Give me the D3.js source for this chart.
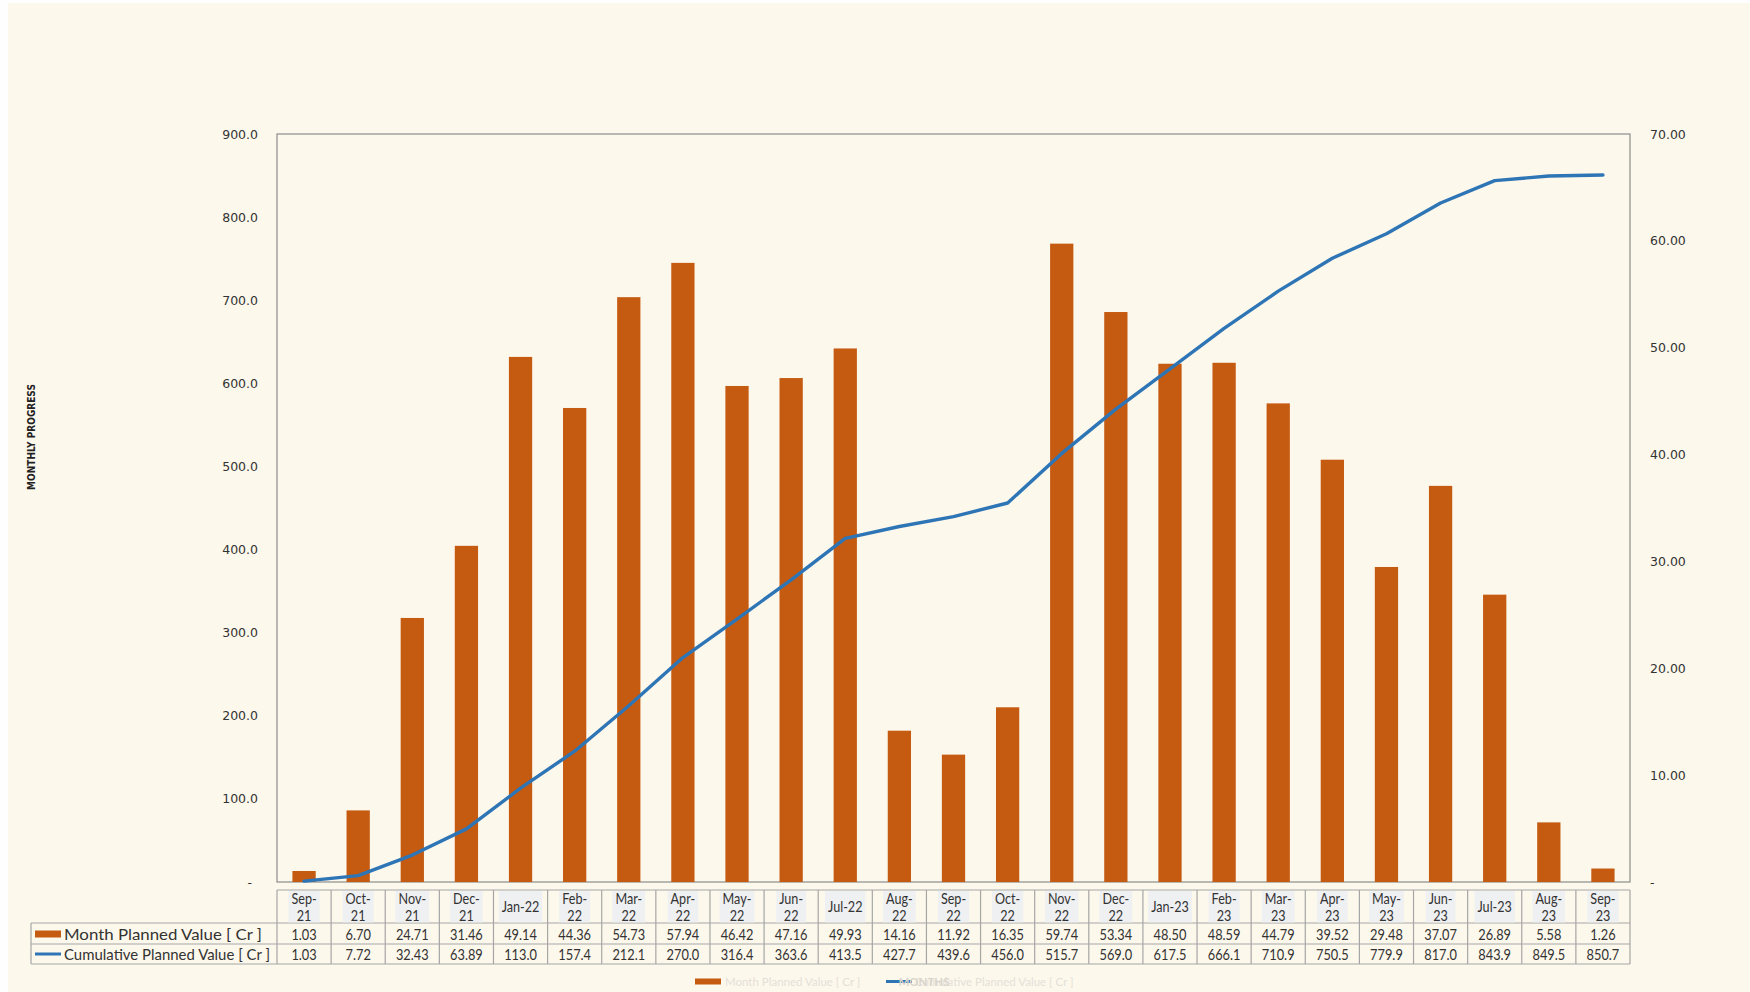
<!DOCTYPE html>
<html>
<head>
<meta charset="utf-8">
<script src="https://cdn.jsdelivr.net/npm/d3@7"></script>
<style>
  html, body { margin: 0; padding: 0; background: #fefefe; }
  svg { display: block; }
</style>
</head>
<body>
<svg id="chart" width="1750" height="992"></svg>
<script>
// ---------------- DATA ----------------
const categories = ["Sep-21","Oct-21","Nov-21","Dec-21","Jan-22","Feb-22","Mar-22","Apr-22","May-22","Jun-22","Jul-22","Aug-22","Sep-22","Oct-22","Nov-22","Dec-22","Jan-23","Feb-23","Mar-23","Apr-23","May-23","Jun-23","Jul-23","Aug-23","Sep-23"];
const singleLineLabels = ["Jan-22","Jul-22","Jan-23","Jul-23"];
const monthlyValues = [1.03,6.70,24.71,31.46,49.14,44.36,54.73,57.94,46.42,47.16,49.93,14.16,11.92,16.35,59.74,53.34,48.50,48.59,44.79,39.52,29.48,37.07,26.89,5.58,1.26];
const cumulativeValues = [1.03,7.72,32.43,63.89,113.0,157.4,212.1,270.0,316.4,363.6,413.5,427.7,439.6,456.0,515.7,569.0,617.5,666.1,710.9,750.5,779.9,817.0,843.9,849.5,850.7];
const leftTicks = [0,100,200,300,400,500,600,700,800,900];
const rightTicks = [0,10,20,30,40,50,60,70];
const seriesNames = ["Month Planned Value [ Cr ]","Cumulative Planned Value [ Cr ]"];
const yAxisTitle = "MONTHLY PROGRESS";
const xAxisTitle = "MONTHS";

// ---------------- STYLE ----------------
const barColor = "#c55a11";
const lineColor = "#2e75b6";
const bg = "#fdf8ec";
const gridColor = "#a6a6a6";
const textColor = "#333333";
const tableFont = "Lato, 'Open Sans', sans-serif";
const tickFont = "'DejaVu Sans', Verdana, sans-serif";

const svg = d3.select("#chart");
svg.append("rect").attr("x", 8).attr("y", 3).attr("width", 1742).attr("height", 989).attr("fill", bg);

const plot = {left: 277, right: 1630, top: 134, bottom: 882};

const x = d3.scaleBand().domain(categories).range([plot.left, plot.right]).paddingInner(0.57).paddingOuter(0.285);
const yLeft = d3.scaleLinear().domain([0, 900]).range([plot.bottom, plot.top]);
const yRight = d3.scaleLinear().domain([0, 70]).range([plot.bottom, plot.top]);

// plot frame
svg.append("rect").attr("x", plot.left).attr("y", plot.top)
  .attr("width", plot.right - plot.left).attr("height", plot.bottom - plot.top)
  .attr("fill", "none").attr("stroke", "#8c8c8c").attr("stroke-width", 1.2);

// Left axis
const leftAxis = d3.axisLeft(yLeft).tickValues(leftTicks).tickSize(0).tickPadding(19)
  .tickFormat(d => d === 0 ? "-" : d3.format(".1f")(d));
const gL = svg.append("g").attr("transform", `translate(${plot.left},0)`).call(leftAxis);
gL.select(".domain").remove();
gL.selectAll("text").attr("font-family", tickFont).attr("font-size", 12.5).attr("fill", textColor);
gL.selectAll(".tick").filter(d => d === 0).select("text").attr("dx", -6);

// Right axis
const rightAxis = d3.axisRight(yRight).tickValues(rightTicks).tickSize(0).tickPadding(20)
  .tickFormat(d => d === 0 ? "-" : d3.format(".2f")(d));
const gR = svg.append("g").attr("transform", `translate(${plot.right},0)`).call(rightAxis);
gR.select(".domain").remove();
gR.selectAll("text").attr("font-family", tickFont).attr("font-size", 12.5).attr("fill", textColor);

// Bars (right axis)
svg.append("g").selectAll("rect").data(categories).join("rect")
  .attr("x", d => x(d))
  .attr("width", x.bandwidth())
  .attr("y", (d, i) => yRight(monthlyValues[i]))
  .attr("height", (d, i) => yRight(0) - yRight(monthlyValues[i]))
  .attr("fill", barColor);

// Line (left axis)
const line = d3.line()
  .x((d, i) => x(categories[i]) + x.bandwidth() / 2)
  .y(d => yLeft(d));
svg.append("path").datum(cumulativeValues)
  .attr("d", line).attr("fill", "none").attr("stroke", lineColor)
  .attr("stroke-width", 3.4).attr("stroke-linejoin", "round").attr("stroke-linecap", "round");

// Y axis title
svg.append("text")
  .attr("transform", `translate(${35},${437}) rotate(-90)`)
  .attr("text-anchor", "middle")
  .attr("font-family", "'Liberation Sans Narrow', 'DejaVu Sans Condensed', Lato, sans-serif")
  .attr("font-weight", "bold").attr("font-size", 10).attr("fill", "#222")
  .text(yAxisTitle);

// ---------------- DATA TABLE ----------------
const tbl = {top: 890, headBottom: 923, row2Bottom: 944, bottom: 964, legendLeft: 31};
const step = x.step();
const colLeft = c => x(c) - (step - x.bandwidth()) / 2;
const tg = svg.append("g");
const FS = 16;
const HFS = 15;

function squeeze(sel, factor) {
  sel.each(function() {
    const w = this.getComputedTextLength();
    d3.select(this).attr("textLength", w * factor).attr("lengthAdjust", "spacingAndGlyphs");
  });
}

// grid lines
const gl = tg.append("g").attr("stroke", gridColor).attr("stroke-width", 1.2);
gl.append("line").attr("x1", plot.left).attr("x2", plot.right).attr("y1", tbl.top).attr("y2", tbl.top);
gl.append("line").attr("x1", tbl.legendLeft).attr("x2", plot.right).attr("y1", tbl.headBottom).attr("y2", tbl.headBottom);
gl.append("line").attr("x1", tbl.legendLeft).attr("x2", plot.right).attr("y1", tbl.row2Bottom).attr("y2", tbl.row2Bottom);
gl.append("line").attr("x1", tbl.legendLeft).attr("x2", plot.right).attr("y1", tbl.bottom).attr("y2", tbl.bottom);
gl.append("line").attr("x1", tbl.legendLeft).attr("x2", tbl.legendLeft).attr("y1", tbl.headBottom).attr("y2", tbl.bottom);
categories.forEach(c => {
  gl.append("line").attr("x1", colLeft(c)).attr("x2", colLeft(c)).attr("y1", tbl.top).attr("y2", tbl.bottom);
});
gl.append("line").attr("x1", plot.right).attr("x2", plot.right).attr("y1", tbl.top).attr("y2", tbl.bottom);

// header light boxes + text (drawn over the top border)
categories.forEach((c, i) => {
  const cx = colLeft(c) + step / 2;
  const single = singleLineLabels.includes(c);
  const lines = single ? [c] : [c.split("-")[0] + "-", c.split("-")[1]];
  const g = tg.append("g");
  const texts = lines.map((t, k) => g.append("text")
    .attr("x", cx)
    .attr("y", single ? 911.5 : (k === 0 ? 903.5 : 920.5))
    .attr("text-anchor", "middle")
    .attr("font-family", tableFont).attr("font-size", HFS).attr("fill", textColor)
    .text(t));
  texts.forEach(t => squeeze(t, 0.84));
  const ws = texts.map(t => +t.attr("textLength"));
  const bw = d3.max(ws) + 6;
  g.insert("rect", "text").attr("x", cx - bw / 2).attr("y", tbl.top + 1)
    .attr("width", bw).attr("height", tbl.headBottom - tbl.top - 1.6)
    .attr("fill", "#eff0f1");
});

// data rows
const fmtCum = v => v < 100 ? v.toFixed(2) : v.toFixed(1);
categories.forEach((c, i) => {
  const cx = colLeft(c) + step / 2;
  squeeze(tg.append("text").attr("x", cx).attr("y", 939.5).attr("text-anchor", "middle")
    .attr("font-family", tableFont).attr("font-size", FS).attr("fill", textColor)
    .text(monthlyValues[i].toFixed(2)), 0.8);
  squeeze(tg.append("text").attr("x", cx).attr("y", 960).attr("text-anchor", "middle")
    .attr("font-family", tableFont).attr("font-size", FS).attr("fill", textColor)
    .text(fmtCum(cumulativeValues[i])), 0.8);
});

// legend keys in the table
tg.append("rect").attr("x", 35).attr("y", 930.5).attr("width", 26).attr("height", 7).attr("fill", barColor);
tg.append("line").attr("x1", 35).attr("x2", 61).attr("y1", 954).attr("y2", 954)
  .attr("stroke", lineColor).attr("stroke-width", 3);
tg.append("text").attr("x", 64).attr("y", 939.5)
  .attr("font-family", tableFont).attr("font-size", FS).attr("fill", textColor)
  .attr("textLength", 198).attr("lengthAdjust", "spacingAndGlyphs")
  .text(seriesNames[0]);
tg.append("text").attr("x", 64).attr("y", 960)
  .attr("font-family", tableFont).attr("font-size", FS).attr("fill", textColor)
  .attr("textLength", 206).attr("lengthAdjust", "spacingAndGlyphs")
  .text(seriesNames[1]);

// faint bottom legend
const lg = svg.append("g");
lg.append("rect").attr("x", 695).attr("y", 978.5).attr("width", 26).attr("height", 6).attr("fill", barColor);
lg.append("text").attr("x", 725).attr("y", 985.5).attr("font-family", tableFont).attr("font-size", 11.5)
  .attr("fill", "#e4e0d8").text(seriesNames[0]);
lg.append("line").attr("x1", 886).attr("x2", 912).attr("y1", 981.5).attr("y2", 981.5)
  .attr("stroke", lineColor).attr("stroke-width", 3);
lg.append("text").attr("x", 915).attr("y", 985.5).attr("font-family", tableFont).attr("font-size", 11.5)
  .attr("fill", "#e4e0d8").text(seriesNames[1]);
lg.append("text").attr("x", 924).attr("y", 985.5).attr("text-anchor", "middle")
  .attr("font-family", tableFont).attr("font-weight", "bold").attr("font-size", 11.5)
  .attr("fill", "#d9d5cc").text(xAxisTitle);
</script>
</body>
</html>
